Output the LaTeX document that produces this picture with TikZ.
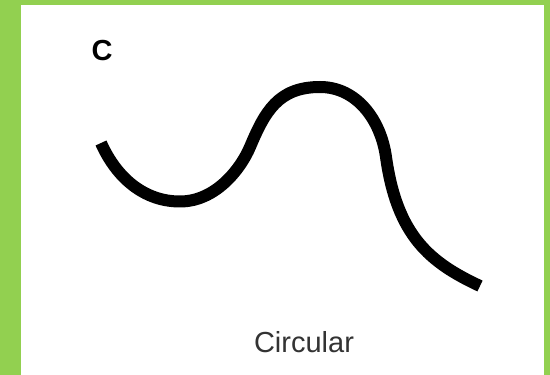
\documentclass[tikz,border=0pt]{standalone}
\usepackage{fontspec}
\setmainfont{Liberation Sans}
\usepackage{tikz}
\definecolor{cFrame}{HTML}{92D050}
\tikzset{
  frame/.style={fill=cFrame, draw=none},
  panel/.style={fill=white, draw=none},
  wave/.style={line width=12pt, black, line cap=butt, line join=round},
  tag/.style={font=\fontsize{29}{30}\selectfont\bfseries, inner sep=0pt},
  caption/.style={font=\fontsize{29}{30}\selectfont, text=black!80, inner sep=0pt},
}

\begin{document}
\begin{tikzpicture}[x=1pt, y=1pt]

  % Frame and white panel
  \useasboundingbox (0,0) rectangle (550,375);
  \fill[frame] (0,0) rectangle (550,375);
  \fill[panel] (21,0) rectangle (544,370);

  % Panel tag
  \node[tag, anchor=center] (tagC) at (102,324) {C};

  % The wave: a chain of round arcs
  \coordinate (s) at (101,232);
  \coordinate (t) at (180,173.5);
  \coordinate (i) at (250,228);
  \coordinate (p) at (320,288);
  \coordinate (r) at (386,218);
  \coordinate (e) at (480,89);
  \draw[wave] (s) .. controls (116.5,197.3) and (144,173.5) .. (t)
                  .. controls (215,173.5) and (240.2,205) .. (i)
                  .. controls (264.8,263) and (278,288) .. (p)
                  .. controls (357,288) and (380.9,254.6) .. (r)
                  .. controls (397.1,138.8) and (430.2,112.3) .. (e);

  % Caption
  \node[caption, anchor=base] (capCirc) at (304,22) {Circular};

\end{tikzpicture}
\end{document}
